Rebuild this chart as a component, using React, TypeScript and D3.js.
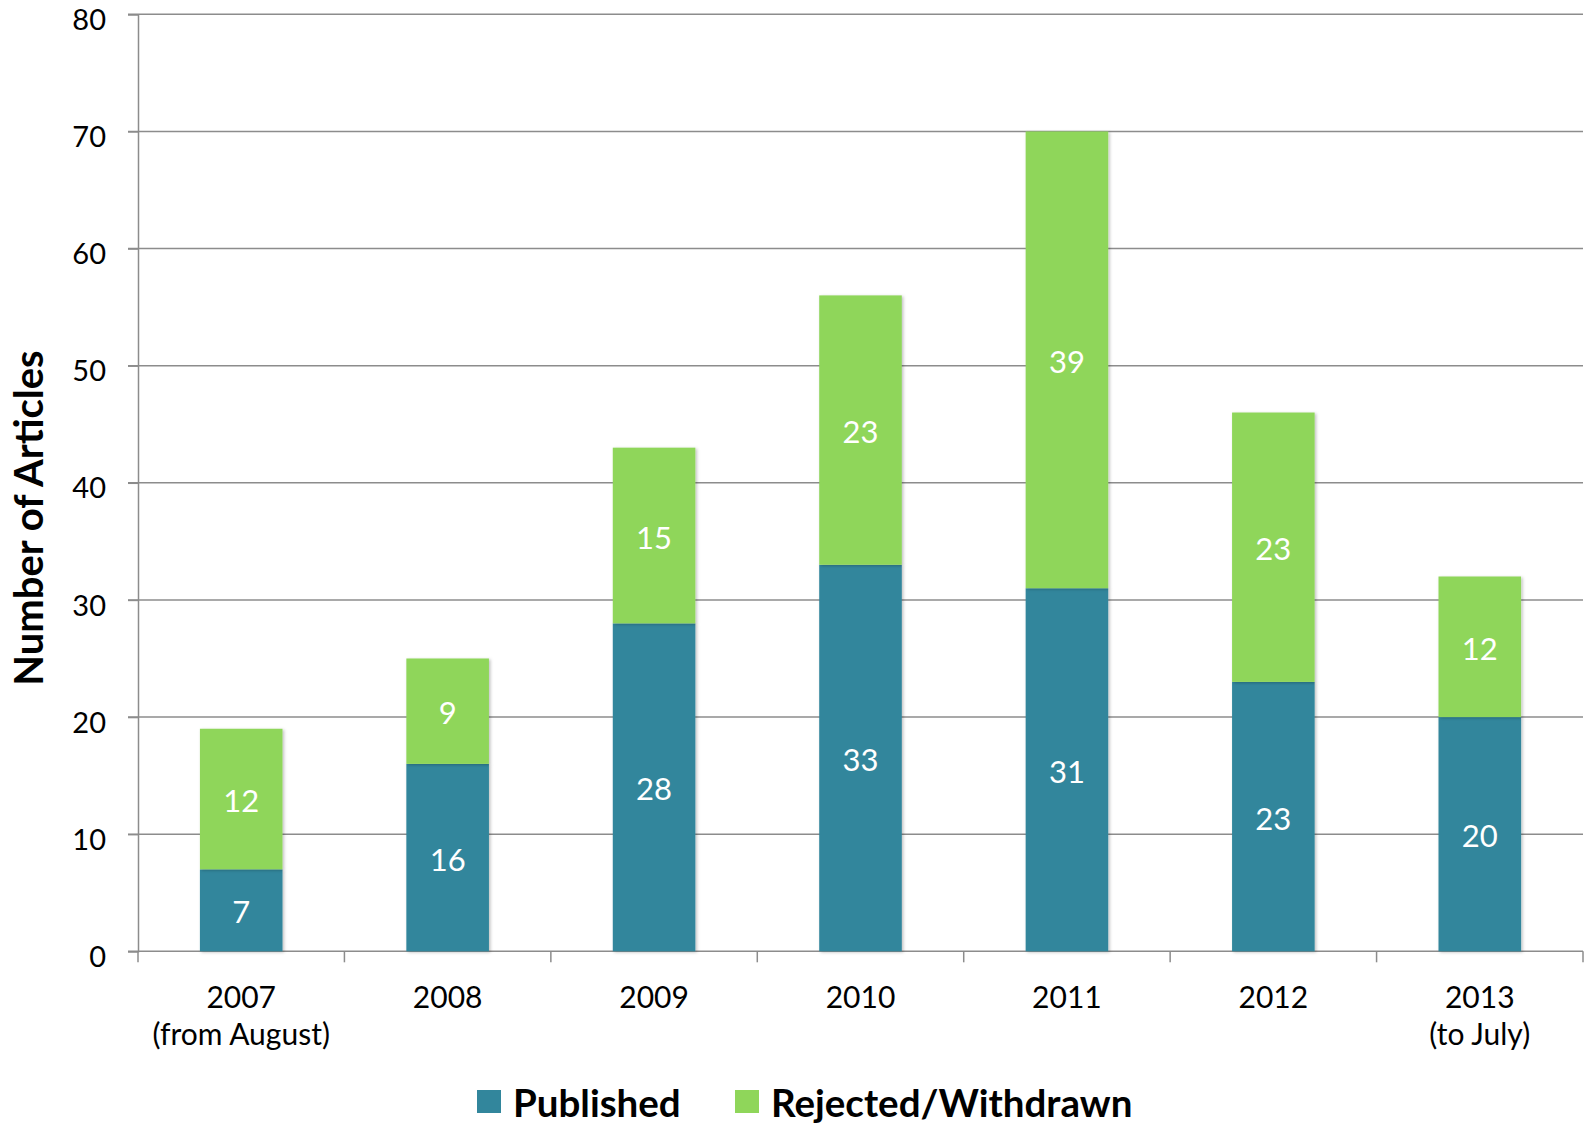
import { useEffect, useRef } from "react";
import * as d3 from "d3";

const years = ["2007", "2008", "2009", "2010", "2011", "2012", "2013"];
const subLabels = ["(from August)", "", "", "", "", "", "(to July)"];
const published = [7, 16, 28, 33, 31, 23, 20];
const rejected = [12, 9, 15, 23, 39, 23, 12];
const yTicks = [0, 10, 20, 30, 40, 50, 60, 70, 80];

const seriesNames = ["Published", "Rejected/Withdrawn"];
const seriesColors = ["#32869C", "#8FD65A"];

const W = 1591;
const H = 1135;
const FONT = "Lato, 'Open Sans', sans-serif";

export default function App() {
  const svgRef = useRef<SVGSVGElement>(null);

  useEffect(() => {
    if (!svgRef.current) return;
    const svg = d3.select(svgRef.current);
    svg.selectAll("*").remove();

    const left = 138;
    const right = 1583;
    const top = 14.3;
    const bottom = 951.3;

    const x = d3.scaleBand<string>().domain(years).range([left, right]).paddingInner(0.6).paddingOuter(0.3);
    const y = d3.scaleLinear().domain([0, 80]).range([bottom, top]);

    const defs = svg.append("defs");
    const f = defs.append("filter").attr("id", "shadow").attr("x", "-20%").attr("y", "-5%").attr("width", "140%").attr("height", "110%");
    f.append("feDropShadow")
      .attr("dx", 1.5)
      .attr("dy", 1)
      .attr("stdDeviation", 1.5)
      .attr("flood-color", "#000")
      .attr("flood-opacity", 0.25);

    // Gridlines
    svg.append("g")
      .selectAll("line")
      .data(yTicks.filter((t) => t > 0))
      .enter()
      .append("line")
      .attr("x1", left - 10)
      .attr("x2", right)
      .attr("y1", (d) => y(d))
      .attr("y2", (d) => y(d))
      .attr("stroke", "#8c8c8c")
      .attr("stroke-width", 1.5);

    // Y axis
    const yAxis = svg.append("g").attr("transform", `translate(${left},0)`).call(d3.axisLeft(y).tickValues(yTicks).tickSize(10).tickPadding(22));
    yAxis.select(".domain").attr("stroke", "#8c8c8c").attr("stroke-width", 1.5);
    yAxis.selectAll(".tick line").attr("stroke", "#8c8c8c").attr("stroke-width", 1.5);
    yAxis.selectAll(".tick text")
      .attr("fill", "#000")
      .attr("font-family", FONT)
      .attr("font-size", "29px")
      .attr("dy", "0.52em");

    // X axis line and ticks at band boundaries
    const step = x.step();
    const bounds = d3.range(years.length + 1).map((i) => left + i * step);
    svg.append("line")
      .attr("x1", left - 10)
      .attr("x2", right)
      .attr("y1", bottom)
      .attr("y2", bottom)
      .attr("stroke", "#8c8c8c")
      .attr("stroke-width", 1.5);
    svg.append("g")
      .selectAll("line")
      .data(bounds)
      .enter()
      .append("line")
      .attr("x1", (d) => d)
      .attr("x2", (d) => d)
      .attr("y1", bottom)
      .attr("y2", bottom + 11)
      .attr("stroke", "#8c8c8c")
      .attr("stroke-width", 1.5);

    // Category labels
    const cats = svg.append("g").attr("font-family", FONT).attr("font-size", "30px").attr("fill", "#000").attr("text-anchor", "middle");
    years.forEach((yr, i) => {
      const cx = (x(yr) ?? 0) + x.bandwidth() / 2;
      cats.append("text").attr("x", cx).attr("y", 1008).text(yr);
      if (subLabels[i]) cats.append("text").attr("x", cx).attr("y", 1045).text(subLabels[i]);
    });

    // Stacked bars
    const rows = years.map((yr, i) => ({ year: yr, Published: published[i], "Rejected/Withdrawn": rejected[i] }));
    const stack = d3.stack<any>().keys(seriesNames)(rows);

    const layers = svg.append("g")
      .selectAll("g")
      .data(stack)
      .enter()
      .append("g")
      .attr("fill", (_, i) => seriesColors[i]);

    layers
      .selectAll("rect")
      .data((d) => d)
      .enter()
      .append("rect")
      .attr("x", (d) => x(d.data.year) ?? 0)
      .attr("width", x.bandwidth())
      .attr("y", (d) => y(d[1]))
      .attr("height", (d) => y(d[0]) - y(d[1]))
      .attr("filter", "url(#shadow)");

    // Value labels
    layers
      .selectAll("text")
      .data((d) => d)
      .enter()
      .append("text")
      .attr("x", (d) => (x(d.data.year) ?? 0) + x.bandwidth() / 2)
      .attr("y", (d) => (y(d[0]) + y(d[1])) / 2)
      .attr("dy", "0.42em")
      .attr("text-anchor", "middle")
      .attr("fill", "#fff")
      .attr("font-family", FONT)
      .attr("font-size", "31px")
      .text((d) => d[1] - d[0]);

    // Y axis title
    svg.append("text")
      .attr("transform", `translate(43,518) rotate(-90)`)
      .attr("text-anchor", "middle")
      .attr("font-family", FONT)
      .attr("font-weight", "bold")
      .attr("font-size", "40px")
      .attr("fill", "#000")
      .text("Number of Articles");

    // Legend
    const legendX = [477, 735];
    const legend = svg.append("g");
    seriesNames.forEach((name, i) => {
      legend.append("rect")
        .attr("x", legendX[i])
        .attr("y", 1090)
        .attr("width", 24)
        .attr("height", 23)
        .attr("fill", seriesColors[i]);
      legend.append("text")
        .attr("x", legendX[i] + 36)
        .attr("y", 1117)
        .attr("font-family", FONT)
        .attr("font-weight", "bold")
        .attr("font-size", "38.5px")
        .attr("fill", "#000")
        .text(name);
    });
  }, []);

  return (
    <div style={{ position: "absolute", left: 0, top: 0 }}>
      <svg ref={svgRef} width={W} height={H} style={{ display: "block", background: "#fff" }} />
    </div>
  );
}
